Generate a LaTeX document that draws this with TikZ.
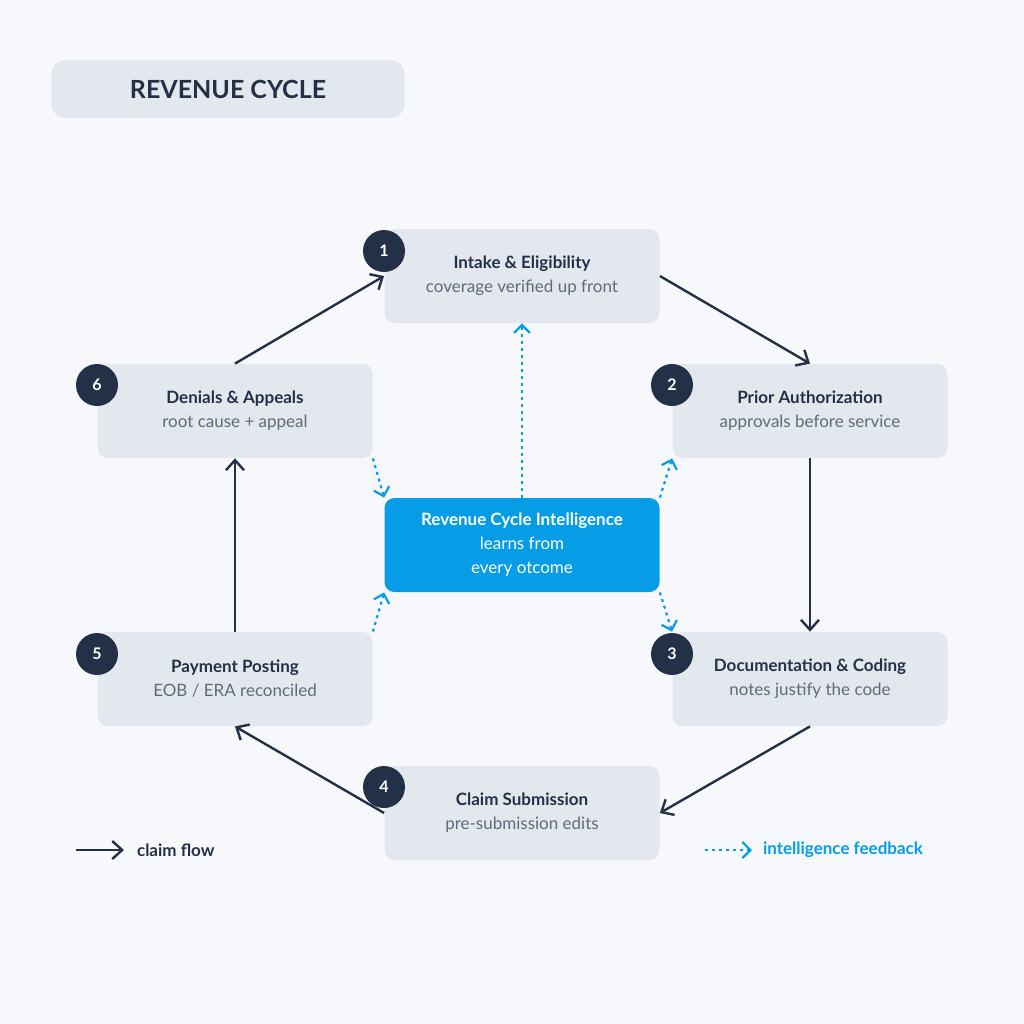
\documentclass[tikz,border=0pt]{standalone}
\usepackage{fontspec}
\setmainfont{Lato}
\usetikzlibrary{arrows.meta}
\definecolor{bgcol}{HTML}{F6F8FB}
\definecolor{boxcol}{HTML}{E3E8EE}
\definecolor{navy}{HTML}{243047}
\definecolor{subcol}{HTML}{5F6B7A}
\definecolor{aiblue}{HTML}{069DE6}
\begin{document}
\begin{tikzpicture}[x=0.5pt,y=-0.5pt,
  step node/.style={rectangle,rounded corners=5pt,fill=boxcol,minimum width=137.5pt,minimum height=47pt,align=center,font=\fontsize{8.5}{12}\selectfont,text=navy},
  core node/.style={step node,fill=aiblue,text=white},
  badge/.style={circle,fill=navy,text=white,minimum size=21pt,inner sep=0pt,font=\bfseries\fontsize{8}{9}\selectfont},
  flow/.style={-{Straight Barb[length=5pt,width=9pt]},draw=navy,line width=1.2pt},
  feed/.style={-{Straight Barb[length=4pt,width=8pt]},draw=aiblue,line width=1.1pt,dash pattern=on 1.5pt off 2pt}]

  \fill[bgcol] (0,0) rectangle (1024,1024);
  \useasboundingbox (0,0) rectangle (1024,1024);

  \node[rectangle,rounded corners=7pt,fill=boxcol,minimum width=176.5pt,minimum height=29pt,text=navy,font=\bfseries\fontsize{12.5}{14}\selectfont] (title) at (228,89) {REVENUE CYCLE};

  \node[step node] (b1) at (522,276) {\textbf{Intake \& Eligibility}\\\textcolor{subcol}{coverage verified up front}};
  \node[step node] (b2) at (810,411) {\textbf{Prior Authorization}\\\textcolor{subcol}{approvals before service}};
  \node[step node] (b3) at (810,679) {\textbf{Documentation \& Coding}\\\textcolor{subcol}{notes justify the code}};
  \node[step node] (b4) at (522,813) {\textbf{Claim Submission}\\\textcolor{subcol}{pre-submission edits}};
  \node[step node] (b5) at (235,679) {\textbf{Payment Posting}\\\textcolor{subcol}{EOB / ERA reconciled}};
  \node[step node] (b6) at (235,411) {\textbf{Denials \& Appeals}\\\textcolor{subcol}{root cause + appeal}};
  \node[core node] (c) at (522,545) {\textbf{Revenue Cycle Intelligence}\\learns from\\every otcome};

  \node[badge] (n1) at (384,251) {1};
  \node[badge] (n2) at (672,385) {2};
  \node[badge] (n3) at (672,654) {3};
  \node[badge] (n4) at (384,787) {4};
  \node[badge] (n5) at (97,654) {5};
  \node[badge] (n6) at (97,385) {6};

  % claim flow
  \draw[flow] (b1.east) -- (b2.north);
  \draw[flow] (b2.south) -- (b3.north);
  \draw[flow] (b3.south) -- (b4.east);
  \draw[flow] (b4.west) -- (b5.south);
  \draw[flow] (b5.north) -- (b6.south);
  \draw[flow] (b6.north) -- (b1.west);

  % intelligence feedback
  \draw[feed] (c.north) -- (b1.south);
  \draw[feed] (c.north east) -- (b2.south west);
  \draw[feed] (c.south east) -- (b3.north west);
  \draw[feed] (b6.south east) -- (c.north west);
  \draw[feed] (b5.north east) -- (c.south west);

  % legend
  \coordinate (l1a) at (76,850);
  \coordinate (l1b) at (124,850);
  \draw[flow] (l1a) -- (l1b);
  \node[anchor=west,text=navy,font=\bfseries\fontsize{8.5}{10}\selectfont] (lg1) at (130,850) {claim flow};
  \coordinate (l2a) at (705,850);
  \coordinate (l2b) at (752,850);
  \draw[feed] (l2a) -- (l2b);
  \node[anchor=west,text=aiblue,font=\bfseries\fontsize{8.5}{10}\selectfont] (lg2) at (756,850) {intelligence feedback};
\end{tikzpicture}
\end{document}
